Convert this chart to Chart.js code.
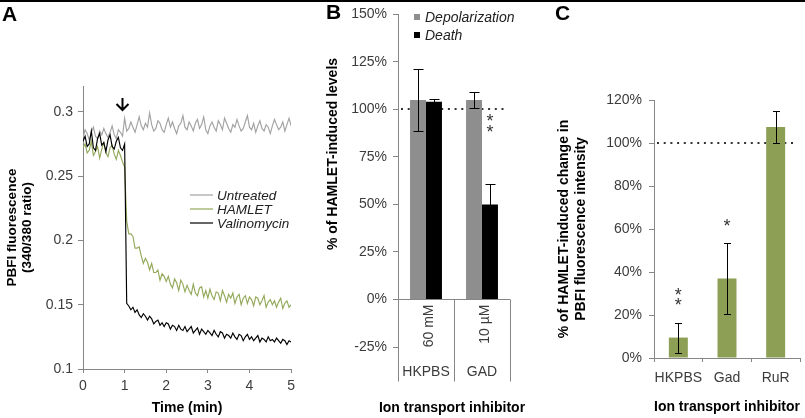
<!DOCTYPE html>
<html>
<head>
<meta charset="utf-8">
<script src="https://cdn.jsdelivr.net/npm/chart.js@4.4.1/dist/chart.umd.min.js"></script>
<style>
  html, body { margin: 0; padding: 0; background: #fff; }
  #wrap { position: relative; width: 805px; height: 418px; overflow: hidden; }
  #wrap canvas { position: absolute; top: 0; }
  #topline { position: absolute; left: 0; top: 0; width: 805px; height: 2px; background: #000; }
  .panel { position: absolute; font: bold 21px 'Liberation Sans', Arial, sans-serif; color: #000; }
</style>
</head>
<body>
<div id="wrap">
  <canvas id="chartA" width="300" height="418" style="left:0px"></canvas>
  <canvas id="chartB" width="230" height="418" style="left:300px"></canvas>
  <canvas id="chartC" width="275" height="418" style="left:530px"></canvas>
  <div id="topline"></div>
  <div class="panel" style="left:2px; top:2px">A</div>
  <div class="panel" style="left:326px; top:0px">B</div>
  <div class="panel" style="left:555px; top:1px">C</div>
</div>
<script>
// Panel A - PBFI 340/380 ratio, one sample every 3 s (0.05 min), 0 to 5 min
const sampleStepMin = 0.05;
const treatmentAt = 0.93; // arrow position (min)

const untreated = [
  0.280, 0.286, 0.283, 0.278, 0.284, 0.288, 0.281, 0.279, 0.285, 0.282,
  0.287, 0.283, 0.280, 0.284, 0.289, 0.282, 0.279, 0.286, 0.284, 0.281, 0.295,
  0.285, 0.287, 0.292, 0.288, 0.284, 0.290, 0.296, 0.289, 0.286, 0.291,
  0.288, 0.299, 0.290, 0.285, 0.287, 0.293, 0.291, 0.286, 0.284, 0.290,
  0.295, 0.288, 0.292, 0.287, 0.283, 0.289, 0.291, 0.297, 0.288, 0.286,
  0.292, 0.289, 0.285, 0.291, 0.294, 0.287, 0.290, 0.296, 0.286, 0.283,
  0.289, 0.292, 0.288, 0.285, 0.293, 0.290, 0.286, 0.295, 0.291, 0.287,
  0.284, 0.290, 0.288, 0.294, 0.289, 0.285, 0.287, 0.292, 0.297, 0.288,
  0.286, 0.291, 0.284, 0.289, 0.293, 0.287, 0.285, 0.290, 0.288, 0.283,
  0.289, 0.294, 0.290, 0.286, 0.288, 0.292, 0.285, 0.290, 0.295, 0.289
];
const hamlet = [
  0.272, 0.275, 0.268, 0.270, 0.277, 0.266, 0.269, 0.273, 0.264, 0.271,
  0.276, 0.268, 0.265, 0.272, 0.274, 0.267, 0.263, 0.270, 0.266, 0.261, 0.257,
  0.215, 0.205, 0.205, 0.203, 0.194, 0.194, 0.195, 0.188, 0.182, 0.186,
  0.183, 0.177, 0.182, 0.175, 0.175, 0.177, 0.169, 0.174, 0.172, 0.168,
  0.172, 0.166, 0.163, 0.170, 0.167, 0.161, 0.169, 0.166, 0.160, 0.165,
  0.161, 0.158, 0.166, 0.159, 0.157, 0.163, 0.164, 0.156, 0.161, 0.155,
  0.162, 0.157, 0.154, 0.160, 0.159, 0.153, 0.161, 0.157, 0.152, 0.158,
  0.155, 0.159, 0.151, 0.156, 0.158, 0.150, 0.155, 0.157, 0.151, 0.156,
  0.154, 0.149, 0.156, 0.155, 0.150, 0.153, 0.157, 0.148, 0.152, 0.154,
  0.150, 0.153, 0.148, 0.152, 0.155, 0.147, 0.151, 0.153, 0.148, 0.150
];
const valinomycin = [
  0.277, 0.281, 0.273, 0.275, 0.285, 0.272, 0.270, 0.279, 0.283, 0.274,
  0.276, 0.269, 0.278, 0.282, 0.273, 0.271, 0.277, 0.280, 0.272, 0.270, 0.275,
  0.151, 0.149, 0.146, 0.148, 0.144, 0.146, 0.142, 0.140, 0.143, 0.141,
  0.138, 0.141, 0.139, 0.135, 0.137, 0.138, 0.134, 0.136, 0.133, 0.136,
  0.135, 0.131, 0.134, 0.133, 0.130, 0.134, 0.131, 0.130, 0.133, 0.129,
  0.131, 0.133, 0.128, 0.130, 0.132, 0.127, 0.131, 0.129, 0.127, 0.130,
  0.128, 0.126, 0.130, 0.127, 0.125, 0.129, 0.128, 0.124, 0.127, 0.126,
  0.124, 0.128, 0.125, 0.123, 0.127, 0.126, 0.122, 0.125, 0.127, 0.123,
  0.125, 0.122, 0.124, 0.126, 0.121, 0.124, 0.123, 0.121, 0.125, 0.122,
  0.123, 0.121, 0.124, 0.122, 0.120, 0.123, 0.122, 0.119, 0.122, 0.121
];

// Panel B - % of HAMLET-induced levels
const inhibitorsB = ["HKPBS", "GAD"];
const concentrationsB = ["60 mM", "10 µM"];
const depolarization = [105, 105];
const depolarizationErr = [16.5, 4];
const death = [104, 50];
const deathErr = [1.5, 11];
const deathStars = ["", "**"];

// Panel C - % of HAMLET-induced change in PBFI fluorescence
const inhibitorsC = ["HKPBS", "Gad", "RuR"];
const fluoChange = [9.5, 37, 107.5];
const fluoChangeErr = [7, 16.5, 7.3];
const fluoStars = ["**", "*", ""];

const FONT = "'Liberation Sans', Arial, sans-serif";
const AXIS = "#868686";
const TICK_TEXT = "#3c3c3c";
const tickFont = { family: FONT, size: 14 };
const titleFont = { family: FONT, size: 14, weight: "bold" };

function errorBars(ctx, chart, dsIndex, values, errs, capHalf) {
  const y = chart.scales.y;
  ctx.strokeStyle = "#000";
  ctx.lineWidth = 1;
  chart.getDatasetMeta(dsIndex).data.forEach((bar, i) => {
    const x = Math.round(bar.x) + 0.5;
    const top = Math.round(y.getPixelForValue(values[i] + errs[i])) + 0.5;
    const bot = Math.round(y.getPixelForValue(values[i] - errs[i])) + 0.5;
    ctx.beginPath();
    ctx.moveTo(x, top); ctx.lineTo(x, bot);
    ctx.moveTo(x - capHalf, top); ctx.lineTo(x + capHalf, top);
    ctx.moveTo(x - capHalf, bot); ctx.lineTo(x + capHalf, bot);
    ctx.stroke();
  });
}

function stars(ctx, chart, dsIndex, values, errs, marks, gap, step) {
  const y = chart.scales.y;
  ctx.fillStyle = "#333";
  ctx.font = "18px " + FONT;
  ctx.textAlign = "center";
  ctx.textBaseline = "middle";
  chart.getDatasetMeta(dsIndex).data.forEach((bar, i) => {
    const base = y.getPixelForValue(values[i] + errs[i]) - gap;
    for (let k = 0; k < marks[i].length; k++) {
      ctx.fillText("*", bar.x, base - k * step + 4);
    }
  });
}

function dottedLine(ctx, y, x0, x1) {
  ctx.save();
  ctx.strokeStyle = "#333";
  ctx.lineWidth = 2;
  ctx.setLineDash([2, 4.7]);
  ctx.beginPath();
  ctx.moveTo(x0, y); ctx.lineTo(x1, y);
  ctx.stroke();
  ctx.restore();
}

// ---------- Panel A
const panelA = {
  id: "panelA",
  afterDraw(chart) {
    const { ctx, scales: { x } } = chart;
    ctx.save();
    // treatment arrow
    const ax = Math.round(x.getPixelForValue(treatmentAt)) + 0.5;
    ctx.strokeStyle = "#000";
    ctx.lineWidth = 2;
    ctx.beginPath();
    ctx.moveTo(ax, 98); ctx.lineTo(ax, 110);
    ctx.moveTo(ax - 6, 104); ctx.lineTo(ax, 110); ctx.lineTo(ax + 6, 104);
    ctx.stroke();
    // legend
    ctx.font = "italic 13.5px " + FONT;
    ctx.textBaseline = "middle";
    chart.data.datasets.forEach((ds, i) => {
      const ly = 195 + i * 14;
      ctx.strokeStyle = ds.borderColor;
      ctx.lineWidth = 1.2;
      ctx.beginPath(); ctx.moveTo(190, ly); ctx.lineTo(213, ly); ctx.stroke();
      ctx.fillStyle = "#222";
      ctx.fillText(ds.label, 217, ly + 1);
    });
    ctx.restore();
  }
};

const asPoints = arr => arr.map((v, i) => ({ x: +(i * sampleStepMin).toFixed(2), y: v }));

new Chart(document.getElementById("chartA"), {
  type: "line",
  data: {
    datasets: [
      { label: "Untreated", data: asPoints(untreated), borderColor: "#a2a2a2", order: 3 },
      { label: "HAMLET", data: asPoints(hamlet), borderColor: "#93a95a", order: 2 },
      { label: "Valinomycin", data: asPoints(valinomycin), borderColor: "#000000", order: 1 }
    ]
  },
  options: {
    responsive: false,
    animation: false,
    elements: { point: { radius: 0 }, line: { borderWidth: 1.15, tension: 0 } },
    layout: { padding: { top: 86, right: 3, left: 0, bottom: 0 } },
    plugins: { legend: { display: false }, tooltip: { enabled: false } },
    scales: {
      x: {
        type: "linear", min: 0, max: 5,
        ticks: { stepSize: 1, color: TICK_TEXT, font: tickFont, padding: 5, maxRotation: 0 },
        grid: { drawOnChartArea: false, tickLength: 4, color: AXIS },
        border: { color: AXIS },
        title: { display: true, text: "Time (min)", color: "#000", font: titleFont, padding: { top: 0, bottom: 1 } },
        afterFit: s => { s.height = 49; }
      },
      y: {
        min: 0.1, max: 0.32,
        ticks: { stepSize: 0.05, includeBounds: false, color: TICK_TEXT, font: tickFont, padding: 5,
                 callback: v => String(+v.toFixed(2)) },
        grid: { drawOnChartArea: false, tickLength: 5, color: AXIS },
        border: { color: AXIS },
        title: { display: true, text: ["PBFI fluorescence", "(340/380 ratio)"], color: "#000",
                 font: { family: FONT, size: 13.5, weight: "bold", lineHeight: 1.1 }, padding: { top: 5 } },
        afterFit: s => { s.width = 83; }
      }
    }
  },
  plugins: [panelA]
});

// ---------- Panel B
const panelB = {
  id: "panelB",
  beforeDatasetsDraw(chart) {
    const { ctx, chartArea, scales: { y } } = chart;
    dottedLine(ctx, Math.round(y.getPixelForValue(100)), chartArea.left + 3, chartArea.right - 3);
  },
  afterDraw(chart) {
    const { ctx, chartArea, scales: { x, y } } = chart;
    ctx.save();
    // category axis at 0% with label boxes
    const y0 = Math.round(y.getPixelForValue(0)) + 0.5;
    const w = (chartArea.right - chartArea.left) / inhibitorsB.length;
    ctx.strokeStyle = AXIS;
    ctx.lineWidth = 1;
    ctx.beginPath();
    ctx.moveTo(chartArea.left, y0); ctx.lineTo(chartArea.right, y0);
    for (let k = 0; k <= inhibitorsB.length; k++) {
      const bx = Math.round(chartArea.left + k * w) + 0.5;
      ctx.moveTo(bx, y0); ctx.lineTo(bx, y0 + 82);
    }
    ctx.stroke();
    ctx.fillStyle = TICK_TEXT;
    ctx.font = "14px " + FONT;
    inhibitorsB.forEach((name, i) => {
      const cx = x.getPixelForValue(i);
      ctx.save();
      ctx.translate(cx + 3, y0 + 5);
      ctx.rotate(-Math.PI / 2);
      ctx.textAlign = "right";
      ctx.textBaseline = "middle";
      ctx.fillText(concentrationsB[i], 0, 0);
      ctx.restore();
      ctx.textAlign = "center";
      ctx.textBaseline = "middle";
      ctx.fillText(name, cx, y0 + 73);
    });
    // error bars + significance
    errorBars(ctx, chart, 0, depolarization, depolarizationErr, 5);
    errorBars(ctx, chart, 1, death, deathErr, 5);
    stars(ctx, chart, 1, death, deathErr, deathStars, 55, 11);
    // axis titles
    ctx.font = "bold 14px " + FONT;
    ctx.fillStyle = "#000";
    ctx.textAlign = "center";
    ctx.textBaseline = "middle";
    ctx.fillText("Ion transport inhibitor", 152, 408);
    ctx.save();
    ctx.translate(33, 154);
    ctx.rotate(-Math.PI / 2);
    ctx.fillText("% of HAMLET-induced levels", 0, 0);
    ctx.restore();
    // legend
    ctx.font = "italic 14px " + FONT;
    ctx.textAlign = "left";
    chart.data.datasets.forEach((ds, i) => {
      const ly = 17 + i * 18;
      ctx.fillStyle = ds.backgroundColor;
      ctx.fillRect(chartArea.left + 16, ly - 3, 6, 6);
      ctx.fillStyle = "#222";
      ctx.fillText(ds.label, chartArea.left + 27, ly + 1);
    });
    ctx.restore();
  }
};

new Chart(document.getElementById("chartB"), {
  type: "bar",
  data: {
    labels: inhibitorsB,
    datasets: [
      { label: "Depolarization", data: depolarization, backgroundColor: "#8e8e8e" },
      { label: "Death", data: death, backgroundColor: "#000000" }
    ]
  },
  options: {
    responsive: false,
    animation: false,
    datasets: { bar: { categoryPercentage: 0.57, barPercentage: 1 } },
    layout: { padding: { top: 13, right: 20, left: 0, bottom: 0 } },
    plugins: { legend: { display: false }, tooltip: { enabled: false } },
    scales: {
      x: {
        ticks: { display: false },
        grid: { display: false },
        border: { display: false },
        afterFit: s => { s.height = 71; }
      },
      y: {
        min: -25, max: 150,
        ticks: { stepSize: 25, color: TICK_TEXT, font: tickFont, padding: 6, callback: v => v + "%" },
        grid: { drawOnChartArea: false, tickLength: 5, color: AXIS },
        border: { color: AXIS },
        afterFit: s => { s.width = 98; }
      }
    }
  },
  plugins: [panelB]
});

// ---------- Panel C
const panelC = {
  id: "panelC",
  beforeDatasetsDraw(chart) {
    const { ctx, chartArea, scales: { y } } = chart;
    dottedLine(ctx, Math.round(y.getPixelForValue(100)), chartArea.left + 3, chartArea.right - 5);
  },
  afterDraw(chart) {
    const { ctx } = chart;
    ctx.save();
    errorBars(ctx, chart, 0, fluoChange, fluoChangeErr, 3.5);
    stars(ctx, chart, 0, fluoChange, fluoChangeErr, fluoStars, 20, 10);
    ctx.restore();
  }
};

new Chart(document.getElementById("chartC"), {
  type: "bar",
  data: {
    labels: inhibitorsC,
    datasets: [
      { label: "Change", data: fluoChange, backgroundColor: "#8d9e55" }
    ]
  },
  options: {
    responsive: false,
    animation: false,
    datasets: { bar: { categoryPercentage: 1, barPercentage: 0.39 } },
    layout: { padding: { top: 100, right: 5, left: 0, bottom: 0 } },
    plugins: { legend: { display: false }, tooltip: { enabled: false } },
    scales: {
      x: {
        ticks: { color: TICK_TEXT, font: tickFont, padding: 8, maxRotation: 0, autoSkip: false },
        grid: { drawOnChartArea: false, tickLength: 4, color: AXIS },
        border: { color: AXIS },
        title: { display: true, text: "Ion transport inhibitor", color: "#000", font: titleFont, padding: { top: 0, bottom: 2 } },
        afterFit: s => { s.height = 60; }
      },
      y: {
        min: 0, max: 120,
        ticks: { stepSize: 20, color: TICK_TEXT, font: tickFont, padding: 7, callback: v => v + "%" },
        grid: { drawOnChartArea: false, tickLength: 5, color: AXIS },
        border: { color: AXIS },
        title: { display: true, text: ["% of HAMLET-induced change in", "PBFI fluorescence intensity"], color: "#000",
                 font: { family: FONT, size: 14, weight: "bold", lineHeight: 1.2 }, padding: { top: 26 } },
        afterFit: s => { s.width = 124; }
      }
    }
  },
  plugins: [panelC]
});
</script>
</body>
</html>
